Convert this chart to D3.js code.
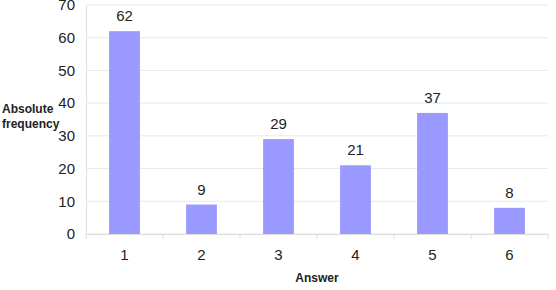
<!DOCTYPE html>
<html>
<head>
<meta charset="utf-8">
<script src="https://cdn.jsdelivr.net/npm/d3@7"></script>
<style>
  body { margin: 0; background: #fff; }
  text { font-family: "Liberation Sans", Arial, sans-serif; fill: #222; }
</style>
</head>
<body>
<div id="chart"></div>
<script>
const answers = ['1', '2', '3', '4', '5', '6']
const frequencies = [62, 9, 29, 21, 37, 8]
const yTicks = [0, 10, 20, 30, 40, 50, 60, 70]

const width = 556
const height = 290
const margin = { top: 5, right: 8, bottom: 56, left: 86 }

const svg = d3.select('#chart')
    .append('svg')
    .attr('width', width)
    .attr('height', height)

const x = d3.scaleBand()
    .domain(answers)
    .range([margin.left, width - margin.right])
    .paddingInner(0.6)
    .paddingOuter(0.3)

const y = d3.scaleLinear()
    .domain([0, 70])
    .range([height - margin.bottom, margin.top])

// gridlines
svg.selectAll('line.grid')
    .data(yTicks)
    .enter()
    .append('line')
    .attr('class', 'grid')
    .attr('x1', margin.left)
    .attr('x2', width - margin.right)
    .attr('y1', d => y(d))
    .attr('y2', d => y(d))
    .style('stroke', '#e8e8e8')
    .style('stroke-width', 1)

// y axis
const yAxis = svg.append('g')
    .attr('transform', `translate(${margin.left},0)`)
    .call(d3.axisLeft(y).tickValues(yTicks).tickSize(0).tickPadding(11))
yAxis.select('.domain').style('stroke', '#dddddd')
yAxis.selectAll('text').style('font-size', '15px')

// x axis, ticks sit between categories
const xAxis = svg.append('g')
    .attr('transform', `translate(0,${y(0)})`)
    .call(d3.axisBottom(x).tickSize(0).tickPadding(15))
xAxis.select('.domain').style('stroke', '#dddddd')
xAxis.selectAll('text').style('font-size', '15px')

const sepX = d3.range(7).map(i => margin.left + i * (width - margin.left - margin.right) / 6)
svg.selectAll('line.sep')
    .data(sepX)
    .enter()
    .append('line')
    .attr('class', 'sep')
    .attr('x1', d => d)
    .attr('x2', d => d)
    .attr('y1', y(0))
    .attr('y2', y(0) + 5)
    .style('stroke', '#dddddd')

// bars
svg.selectAll('rect.bar')
    .data(answers)
    .enter()
    .append('rect')
    .attr('class', 'bar')
    .attr('x', d => x(d))
    .attr('width', x.bandwidth())
    .attr('y', (d, i) => y(frequencies[i]))
    .attr('height', (d, i) => y(0) - y(frequencies[i]))
    .style('fill', '#9999ff')

// value labels
svg.selectAll('text.value')
    .data(answers)
    .enter()
    .append('text')
    .attr('class', 'value')
    .attr('x', d => x(d) + x.bandwidth() / 2)
    .attr('y', (d, i) => y(frequencies[i]) - 10)
    .attr('text-anchor', 'middle')
    .style('font-size', '15px')
    .text((d, i) => frequencies[i])

// axis titles
const yTitle = svg.append('text')
    .attr('x', 2)
    .attr('y', 113)
    .style('font-size', '12px')
    .style('font-weight', 'bold')
yTitle.append('tspan').attr('x', 2).attr('dy', 0).text('Absolute')
yTitle.append('tspan').attr('x', 2).attr('dy', 15).text('frequency')

svg.append('text')
    .attr('x', (margin.left + width - margin.right) / 2)
    .attr('y', 282)
    .attr('text-anchor', 'middle')
    .style('font-size', '12px')
    .style('font-weight', 'bold')
    .text('Answer')
</script>
</body>
</html>
